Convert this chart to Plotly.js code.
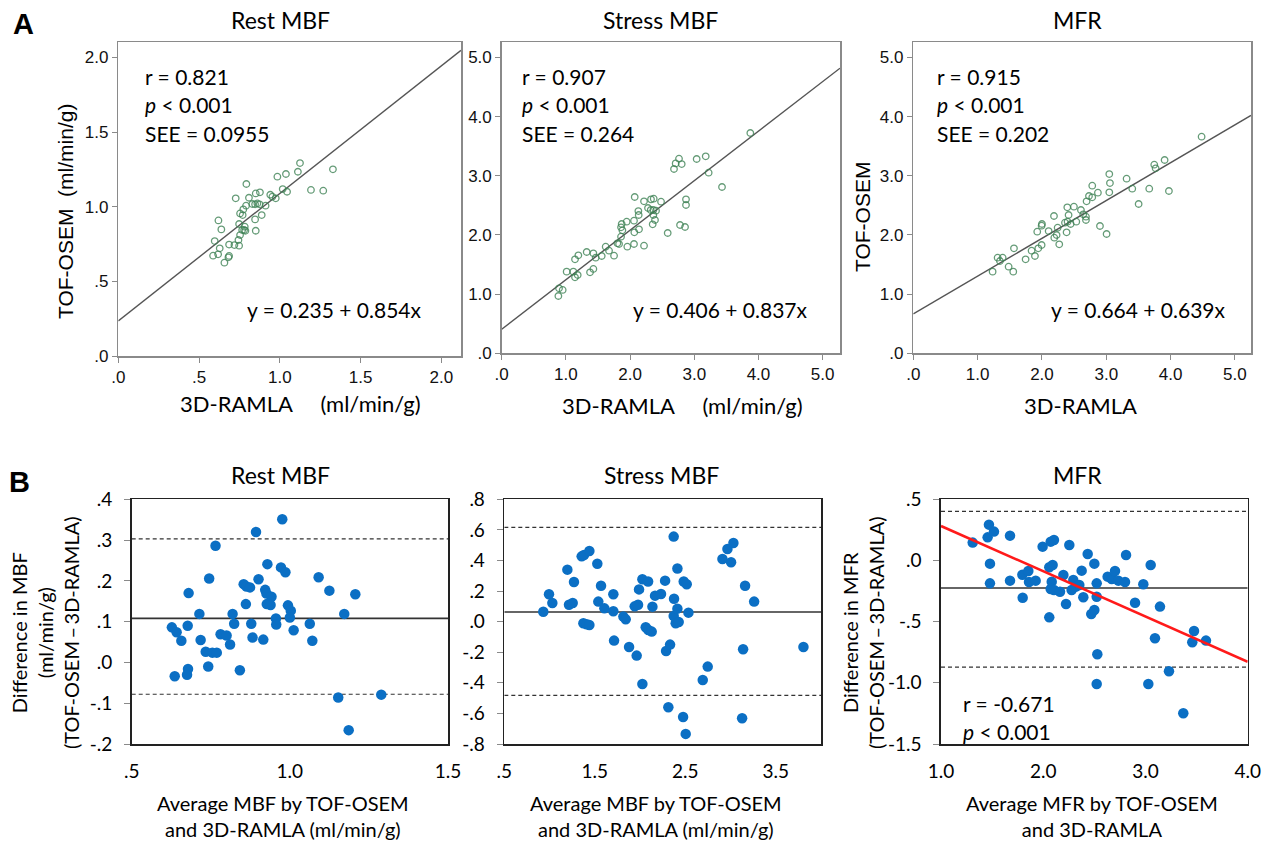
<!DOCTYPE html>
<html>
<head>
<meta charset="utf-8">
<script src="https://cdn.plot.ly/plotly-3.0.1.min.js"></script>
<style>html,body{margin:0;padding:0;background:#fff;}#chart{width:1268px;height:843px;}</style>
</head>
<body>
<div id="chart"></div>
<script>
// ---------- Panel A data (3D-RAMLA vs TOF-OSEM) ----------
const restRamla = [1.125,1.329,1.112,0.985,1.038,1.193,1.269,1.018,1.045,0.793,0.727,0.809,0.851,0.877,0.941,0.954,0.975,0.830,0.847,0.861,0.875,0.912,0.791,0.774,0.754,0.770,0.888,0.847,0.851,0.620,0.638,0.748,0.783,0.767,0.787,0.597,0.686,0.719,0.748,0.744,0.754,0.628,0.587,0.618,0.686,0.682,0.657,0.779];
const restTof   = [1.292,1.250,1.234,1.201,1.219,1.112,1.107,1.118,1.100,1.152,1.056,1.060,1.089,1.096,1.080,1.067,1.056,1.018,1.016,1.022,1.016,1.007,1.007,0.982,0.955,0.944,0.944,0.915,0.839,0.908,0.848,0.884,0.866,0.844,0.839,0.770,0.746,0.743,0.739,0.777,0.810,0.721,0.672,0.681,0.670,0.661,0.625,0.844];

const stressRamla = [3.873,2.762,2.710,2.804,2.684,3.037,3.178,3.224,3.432,2.871,2.871,2.778,2.856,2.586,2.072,2.217,2.326,2.368,2.482,2.129,2.134,2.279,2.321,2.362,2.404,2.362,2.388,2.352,2.061,2.139,1.947,1.869,1.859,1.880,2.066,1.859,1.802,1.828,1.957,2.061,2.217,1.620,1.672,1.750,1.558,1.428,1.464,1.324,1.194,1.142,1.428,1.376,1.012,1.116,1.184,1.142,0.950,0.893,0.883];
const stressTof   = [3.722,3.288,3.209,3.198,3.114,3.283,3.328,3.052,2.810,2.601,2.506,2.168,2.134,2.033,2.641,2.568,2.601,2.613,2.562,2.404,2.337,2.455,2.421,2.421,2.410,2.337,2.252,2.179,2.241,2.095,2.224,2.185,2.128,2.078,2.044,1.971,1.858,1.847,1.802,1.847,1.819,1.802,1.734,1.650,1.644,1.689,1.616,1.712,1.655,1.588,1.425,1.368,1.380,1.380,1.323,1.284,1.070,1.098,0.968];

const mfrRamla = [4.482,3.907,3.746,3.767,3.316,3.047,3.057,3.047,3.404,3.668,3.974,3.503,2.782,2.870,2.731,2.782,2.694,2.497,2.394,2.606,2.642,2.684,2.684,2.534,2.414,2.399,2.446,2.358,2.187,2.000,1.995,2.244,2.104,1.927,1.995,1.943,1.891,1.839,2.228,2.192,2.269,2.383,2.902,3.005,1.746,1.565,1.389,1.311,1.347,1.482,1.554,1.233];
const mfrTof   = [3.660,3.266,3.187,3.125,2.950,3.029,2.877,2.720,2.782,2.782,2.742,2.523,2.832,2.714,2.658,2.635,2.568,2.477,2.466,2.421,2.348,2.309,2.252,2.224,2.337,2.224,2.185,2.207,2.320,2.185,2.157,2.123,2.066,2.055,1.830,1.774,1.644,1.734,1.999,1.954,1.841,2.044,2.151,2.016,1.588,1.774,1.616,1.616,1.560,1.464,1.380,1.380];

const regIntercept = [0.235, 0.406, 0.664];
const regSlope     = [0.854, 0.837, 0.639];
const statR   = ['0.821', '0.907', '0.915'];
const statSEE = ['0.0955', '0.264', '0.202'];

// ---------- Panel B data (Bland-Altman) ----------
const restAvg  = [0.976,0.893,0.765,0.929,0.972,0.986,0.745,0.901,1.091,0.680,0.854,0.863,0.874,0.922,0.926,0.942,1.125,1.207,0.861,0.927,0.939,0.994,1.003,0.714,0.819,1.172,0.956,1.000,0.957,0.627,0.677,0.824,0.878,1.063,0.642,1.012,0.657,0.718,0.781,0.800,0.882,0.916,1.071,0.811,0.734,0.755,0.769,0.678,0.675,0.742,0.842,0.636,1.153,1.289,1.186];
const restDiff = [0.351,0.320,0.286,0.241,0.233,0.221,0.206,0.204,0.209,0.170,0.192,0.186,0.184,0.178,0.169,0.161,0.176,0.167,0.143,0.143,0.141,0.140,0.127,0.119,0.119,0.119,0.108,0.110,0.093,0.086,0.090,0.095,0.095,0.095,0.074,0.079,0.053,0.055,0.069,0.066,0.061,0.056,0.053,0.044,0.026,0.024,0.024,-0.016,-0.030,-0.010,-0.019,-0.034,-0.086,-0.079,-0.166];

const stressAvg  = [0.931,0.994,1.031,1.197,1.215,1.256,1.270,1.355,1.381,1.440,1.528,1.539,1.569,1.606,1.374,1.410,1.440,1.705,1.705,1.713,1.816,1.842,1.879,1.963,1.941,1.978,1.989,2.026,2.089,2.026,2.063,2.092,2.129,2.137,2.166,2.232,2.277,2.288,2.332,2.313,2.372,2.376,2.372,2.394,2.413,2.413,2.427,2.483,2.516,2.535,2.476,2.505,2.693,2.748,2.911,2.966,3.032,3.006,3.161,3.261,3.139,3.128,3.806];
const stressDiff = [0.065,0.179,0.122,0.340,0.111,0.122,0.259,0.427,0.436,0.462,0.379,0.131,0.235,0.087,-0.011,-0.017,-0.022,0.179,0.068,-0.124,0.033,0.015,-0.166,-0.222,0.100,0.111,0.211,0.277,0.262,-0.408,-0.037,-0.055,-0.065,0.098,0.170,0.181,0.268,-0.192,-0.150,-0.560,0.556,0.150,0.037,-0.011,0.347,0.085,-0.002,0.262,0.244,0.059,-0.623,-0.734,-0.381,-0.294,0.410,0.475,0.514,0.388,0.235,0.131,-0.181,-0.632,-0.166];

const mfrAvg  = [1.310,1.456,1.469,1.518,1.479,1.479,1.675,1.675,1.796,1.799,1.854,1.861,1.926,1.994,2.059,2.092,2.073,2.105,2.059,2.083,2.073,2.105,2.164,2.197,2.223,2.255,2.278,2.294,2.320,2.353,2.376,2.392,2.435,2.470,2.500,2.500,2.523,2.523,2.529,2.523,2.630,2.670,2.702,2.735,2.800,2.810,2.898,2.979,3.051,3.028,3.093,3.142,3.230,3.370,3.458,3.475,3.592];
const mfrDiff = [0.146,0.189,0.293,0.236,-0.026,-0.187,0.203,-0.165,-0.116,-0.304,-0.086,-0.176,-0.165,0.113,-0.056,-0.037,0.154,0.168,-0.465,-0.173,-0.233,-0.241,-0.255,-0.119,-0.356,0.127,-0.241,-0.159,-0.214,-0.200,-0.083,-0.301,0.053,-0.437,-0.405,-0.026,-0.187,-0.296,-0.767,-1.010,-0.132,-0.151,-0.086,-0.165,-0.176,0.045,-0.345,-0.195,-0.037,-1.010,-0.636,-0.377,-0.906,-1.249,-0.669,-0.576,-0.655];

const meanDiff = [0.108, 0.063, -0.225];
const upperLoA = [0.303, 0.617, 0.402];
const lowerLoA = [-0.078, -0.482, -0.871];
const mfrTrendIntercept = 0.652;
const mfrTrendSlope = -0.370;

// ---------- Axis ranges and tick labels ----------
const aXRange = [[0, 2.122], [0, 5.27], [0, 5.25]];
const aYRange = [[0, 2.103], [0, 5.26], [0, 5.26]];
const aTickVals = [[0, 0.5, 1, 1.5, 2], [0, 1, 2, 3, 4, 5], [0, 1, 2, 3, 4, 5]];
const aTickText = [['.0', '.5', '1.0', '1.5', '2.0'], ['.0', '1.0', '2.0', '3.0', '4.0', '5.0'], ['.0', '1.0', '2.0', '3.0', '4.0', '5.0']];

const bXRange = [[0.5, 1.5], [0.5, 4.0], [1.0, 4.0]];
const bYRange = [[-0.2, 0.4], [-0.8, 0.8], [-1.5, 0.5]];
const bXTickVals = [[0.5, 1.0, 1.5], [0.5, 1.5, 2.5, 3.5], [1, 2, 3, 4]];
const bXTickText = [['.5', '1.0', '1.5'], ['.5', '1.5', '2.5', '3.5'], ['1.0', '2.0', '3.0', '4.0']];
const bYTickVals = [[-0.2, -0.1, 0, 0.1, 0.2, 0.3, 0.4], [-0.8, -0.6, -0.4, -0.2, 0, 0.2, 0.4, 0.6, 0.8], [-1.5, -1.0, -0.5, 0, 0.5]];
const bYTickText = [['-.2', '-.1', '.0', '.1', '.2', '.3', '.4'], ['-.8', '-.6', '-.4', '-.2', '.0', '.2', '.4', '.6', '.8'], ['-1.5', '-1.0', '-.5', '.0', '.5']];

const panelTitles = ['Rest MBF', 'Stress MBF', 'MFR'];

// ---------- Layout geometry (pixels) ----------
const W = 1268, H = 843;
const px = v => v / W;
const py = v => 1 - v / H;
const aDomX = [[118.3, 461], [501.7, 840], [913.3, 1251]];
const aDomY = [[42, 356], [42, 353.3], [42, 353.3]];
const bDomX = [[131.7, 448], [504.3, 821], [941, 1247.7]];
const bDomY = [499.3, 744];

const FONT_CAL = 'Lato, "Open Sans", sans-serif';
const FONT_ARIAL = '"Liberation Sans", Arial, sans-serif';
const TXT = '#000';

const traces = [];
const layout = {
  width: W, height: H,
  margin: {l: 0, r: 0, t: 0, b: 0},
  paper_bgcolor: '#fff', plot_bgcolor: '#fff',
  showlegend: false,
  annotations: [],
  font: {family: FONT_CAL, color: TXT}
};

const aX = [restRamla, stressRamla, mfrRamla];
const aY = [restTof, stressTof, mfrTof];
const bX = [restAvg, stressAvg, mfrAvg];
const bY = [restDiff, stressDiff, mfrDiff];

for (let i = 0; i < 3; i++) {
  const n = i + 1;
  const xa = n === 1 ? 'x' : 'x' + n;
  const ya = n === 1 ? 'y' : 'y' + n;
  layout['xaxis' + (n === 1 ? '' : n)] = {
    domain: [px(aDomX[i][0]), px(aDomX[i][1])], anchor: ya,
    range: aXRange[i], tickvals: aTickVals[i], ticktext: aTickText[i],
    showgrid: false, zeroline: false, showline: true, mirror: true,
    linecolor: '#8a8a8a', linewidth: 1.5, ticks: 'outside', ticklen: 5, tickcolor: '#8a8a8a', tickwidth: 1,
    tickfont: {family: FONT_ARIAL, size: 17, color: '#111'}
  };
  layout['yaxis' + (n === 1 ? '' : n)] = {
    domain: [py(aDomY[i][1]), py(aDomY[i][0])], anchor: xa,
    range: aYRange[i], tickvals: aTickVals[i], ticktext: aTickText[i],
    showgrid: false, zeroline: false, showline: true, mirror: true,
    linecolor: '#8a8a8a', linewidth: 1.5, ticks: 'outside', ticklen: 5, tickcolor: '#8a8a8a', tickwidth: 1,
    tickfont: {family: FONT_ARIAL, size: 17, color: '#111'}
  };
  const x0 = aXRange[i][0], x1 = aXRange[i][1];
  traces.push({
    type: 'scatter', mode: 'lines', xaxis: xa, yaxis: ya,
    x: [x0, x1], y: [regIntercept[i] + regSlope[i] * x0, regIntercept[i] + regSlope[i] * x1],
    line: {color: '#555555', width: 1.4}, hoverinfo: 'skip'
  });
  traces.push({
    type: 'scatter', mode: 'markers', xaxis: xa, yaxis: ya,
    x: aX[i], y: aY[i],
    marker: {symbol: 'circle-open', size: 6.5, color: 'rgba(62,130,85,0.8)', line: {width: 1.3, color: 'rgba(62,130,85,0.8)'}}
  });
}

for (let i = 0; i < 3; i++) {
  const n = i + 4;
  const xa = 'x' + n, ya = 'y' + n;
  layout['xaxis' + n] = {
    domain: [px(bDomX[i][0]), px(bDomX[i][1])], anchor: ya,
    range: bXRange[i], tickvals: bXTickVals[i], ticktext: bXTickText[i],
    showgrid: false, zeroline: false, showline: true, mirror: true,
    linecolor: '#222', linewidth: 1.6, ticks: '', ticklabelstandoff: 10,
    tickfont: {family: FONT_CAL, size: 19, color: TXT}
  };
  layout['yaxis' + n] = {
    domain: [py(bDomY[1]), py(bDomY[0])], anchor: xa,
    range: bYRange[i], tickvals: bYTickVals[i], ticktext: bYTickText[i],
    showgrid: false, zeroline: false, showline: true, mirror: true,
    linecolor: '#222', linewidth: 1.6, ticks: 'outside', ticklen: 6, tickcolor: '#8a8a8a', tickwidth: 1,
    ticklabelstandoff: 8,
    tickfont: {family: FONT_CAL, size: 19, color: TXT}
  };
  const xr = bXRange[i];
  traces.push({type: 'scatter', mode: 'lines', xaxis: xa, yaxis: ya, x: xr, y: [upperLoA[i], upperLoA[i]],
    line: {color: '#333', width: 1.2, dash: '4px,3px'}, hoverinfo: 'skip'});
  traces.push({type: 'scatter', mode: 'lines', xaxis: xa, yaxis: ya, x: xr, y: [lowerLoA[i], lowerLoA[i]],
    line: {color: '#333', width: 1.2, dash: '4px,3px'}, hoverinfo: 'skip'});
  traces.push({type: 'scatter', mode: 'lines', xaxis: xa, yaxis: ya, x: xr, y: [meanDiff[i], meanDiff[i]],
    line: {color: '#333', width: 1.6}, hoverinfo: 'skip'});
  traces.push({
    type: 'scatter', mode: 'markers', xaxis: xa, yaxis: ya,
    x: bX[i], y: bY[i],
    marker: {symbol: 'circle', size: 10.5, color: '#0b6fc4', line: {width: 0}}
  });
  if (i === 2) {
    traces.push({type: 'scatter', mode: 'lines', xaxis: xa, yaxis: ya, x: xr,
      y: [mfrTrendIntercept + mfrTrendSlope * xr[0], mfrTrendIntercept + mfrTrendSlope * xr[1]],
      line: {color: '#ff1a1a', width: 2.6}, hoverinfo: 'skip'});
  }
}

// ---------- Text ----------
const ann = layout.annotations;
function addText(text, x, y, opts) {
  ann.push(Object.assign({
    text: text, x: px(x), y: py(y), xref: 'paper', yref: 'paper',
    showarrow: false, xanchor: 'center', yanchor: 'middle',
    font: {family: FONT_CAL, size: 20, color: TXT}
  }, opts || {}));
}
addText('<b>A</b>', 23, 24, {font: {family: FONT_ARIAL, size: 29, color: '#000'}});
addText('<b>B</b>', 19, 482, {font: {family: FONT_ARIAL, size: 29, color: '#000'}});

const titleXA = [280, 660, 1077];
const titleXB = [280, 661, 1077];
for (let i = 0; i < 3; i++) {
  addText(panelTitles[i], titleXA[i], 20, {font: {family: FONT_CAL, size: 23, color: TXT}});
  addText(panelTitles[i], titleXB[i], 475, {font: {family: FONT_CAL, size: 23, color: TXT}});
}

const statLeft = [143, 520, 935];
const eqRight = [424, 810, 1228];
for (let i = 0; i < 3; i++) {
  addText('r = ' + statR[i], statLeft[i], 76, {xanchor: 'left', font: {family: FONT_CAL, size: 21, color: TXT}});
  addText('<i>p</i> < 0.001', statLeft[i], 104, {xanchor: 'left', font: {family: FONT_CAL, size: 21, color: TXT}});
  addText('SEE = ' + statSEE[i], statLeft[i], 133, {xanchor: 'left', font: {family: FONT_CAL, size: 21, color: TXT}});
  addText('y = ' + regIntercept[i].toFixed(3) + ' + ' + regSlope[i].toFixed(3) + 'x', eqRight[i], 309,
    {xanchor: 'right', font: {family: FONT_CAL, size: 21, color: TXT}});
}
const SP5 = '\u00a0\u00a0\u00a0\u00a0\u00a0';
addText('TOF-OSEM\u00a0\u00a0(ml/min/g)', 65, 212, {textangle: -90, font: {family: FONT_ARIAL, size: 21, color: TXT}});
addText('TOF-OSEM', 863, 217, {textangle: -90, font: {family: FONT_ARIAL, size: 21, color: TXT}});
addText('3D-RAMLA' + SP5 + '(ml/min/g)', 300, 403, {font: {family: FONT_CAL, size: 22, color: TXT}});
addText('3D-RAMLA' + SP5 + '(ml/min/g)', 682, 405, {font: {family: FONT_CAL, size: 22, color: TXT}});
addText('3D-RAMLA', 1080, 405, {font: {family: FONT_CAL, size: 22, color: TXT}});

addText('Difference in MBF<br>(ml/min/g)<br>(TOF-OSEM\u2009\u2013\u20093D-RAMLA)', 45, 633, {textangle: -90, font: {family: FONT_CAL, size: 20, color: TXT}});
addText('Difference in MFR<br>(TOF-OSEM\u2009\u2013\u20093D-RAMLA)', 863, 633, {textangle: -90, font: {family: FONT_CAL, size: 20, color: TXT}});
addText('Average MBF by TOF-OSEM<br>and 3D-RAMLA (ml/min/g)', 283, 816, {font: {family: FONT_CAL, size: 20, color: TXT}});
addText('Average MBF by TOF-OSEM<br>and 3D-RAMLA (ml/min/g)', 656, 816, {font: {family: FONT_CAL, size: 20, color: TXT}});
addText('Average MFR by TOF-OSEM<br>and 3D-RAMLA', 1092, 816, {font: {family: FONT_CAL, size: 20, color: TXT}});

addText('r = -0.671', 961, 703, {xanchor: 'left', font: {family: FONT_CAL, size: 21, color: TXT}});
addText('<i>p</i> < 0.001', 961, 731, {xanchor: 'left', font: {family: FONT_CAL, size: 21, color: TXT}});

Plotly.newPlot('chart', traces, layout, {staticPlot: true, displayModeBar: false});
</script>
</body>
</html>
